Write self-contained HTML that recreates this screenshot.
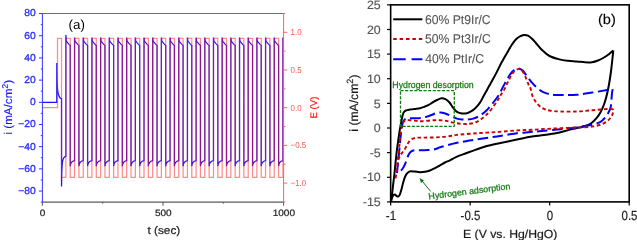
<!DOCTYPE html>
<html><head><meta charset="utf-8"><title>chart</title>
<style>
html,body{margin:0;padding:0;background:#fff;}
body{width:637px;height:240px;overflow:hidden;font-family:"Liberation Sans",sans-serif;}
svg{display:block;will-change:transform;}
</style></head><body>
<svg width="637" height="240" viewBox="0 0 637 240" text-rendering="geometricPrecision">
<rect width="637" height="240" fill="#fff"/>
<path d="M42.4,102.3 L56.8,102.3 L56.8,63 C56.9,89 57.3,97.5 61.54,98.8 L61.54,186.5 C61.74,160 62.54,156.8 65.88,156.3 L65.88,35 L66.38,41.3 C67.48,41.8 68.62,45 70.22,45.4 L70.22,166.2 C70.42,163 71.22,161.1 74.56,160.6 L74.56,37.6 L75.06,41.3 C76.16,41.8 77.31,45 78.91,45.4 L78.91,166.2 C79.11,163 79.91,161.1 83.25,160.6 L83.25,37.6 L83.75,41.3 C84.85,41.8 85.99,45 87.59,45.4 L87.59,166.2 C87.79,163 88.59,161.1 91.93,160.6 L91.93,37.6 L92.43,41.3 C93.53,41.8 94.67,45 96.27,45.4 L96.27,166.2 C96.47,163 97.27,161.1 100.61,160.6 L100.61,37.6 L101.11,41.3 C102.21,41.8 103.35,45 104.95,45.4 L104.95,166.2 C105.15,163 105.95,161.1 109.29,160.6 L109.29,37.6 L109.79,41.3 C110.89,41.8 112.03,45 113.63,45.4 L113.63,166.2 C113.83,163 114.63,161.1 117.97,160.6 L117.97,37.6 L118.47,41.3 C119.57,41.8 120.72,45 122.32,45.4 L122.32,166.2 C122.52,163 123.32,161.1 126.66,160.6 L126.66,37.6 L127.16,41.3 C128.26,41.8 129.4,45 131,45.4 L131,166.2 C131.2,163 132,161.1 135.34,160.6 L135.34,37.6 L135.84,41.3 C136.94,41.8 138.08,45 139.68,45.4 L139.68,166.2 C139.88,163 140.68,161.1 144.02,160.6 L144.02,37.6 L144.52,41.3 C145.62,41.8 146.76,45 148.36,45.4 L148.36,166.2 C148.56,163 149.36,161.1 152.7,160.6 L152.7,37.6 L153.2,41.3 C154.3,41.8 155.44,45 157.04,45.4 L157.04,166.2 C157.24,163 158.04,161.1 161.38,160.6 L161.38,37.6 L161.88,41.3 C162.98,41.8 164.13,45 165.73,45.4 L165.73,166.2 C165.93,163 166.73,161.1 170.07,160.6 L170.07,37.6 L170.57,41.3 C171.67,41.8 172.81,45 174.41,45.4 L174.41,166.2 C174.61,163 175.41,161.1 178.75,160.6 L178.75,37.6 L179.25,41.3 C180.35,41.8 181.49,45 183.09,45.4 L183.09,166.2 C183.29,163 184.09,161.1 187.43,160.6 L187.43,37.6 L187.93,41.3 C189.03,41.8 190.17,45 191.77,45.4 L191.77,166.2 C191.97,163 192.77,161.1 196.11,160.6 L196.11,37.6 L196.61,41.3 C197.71,41.8 198.85,45 200.45,45.4 L200.45,166.2 C200.65,163 201.45,161.1 204.79,160.6 L204.79,37.6 L205.29,41.3 C206.39,41.8 207.53,45 209.13,45.4 L209.13,166.2 C209.33,163 210.13,161.1 213.48,160.6 L213.48,37.6 L213.98,41.3 C215.08,41.8 216.22,45 217.82,45.4 L217.82,166.2 C218.02,163 218.82,161.1 222.16,160.6 L222.16,37.6 L222.66,41.3 C223.76,41.8 224.9,45 226.5,45.4 L226.5,166.2 C226.7,163 227.5,161.1 230.84,160.6 L230.84,37.6 L231.34,41.3 C232.44,41.8 233.58,45 235.18,45.4 L235.18,166.2 C235.38,163 236.18,161.1 239.52,160.6 L239.52,37.6 L240.02,41.3 C241.12,41.8 242.26,45 243.86,45.4 L243.86,166.2 C244.06,163 244.86,161.1 248.2,160.6 L248.2,37.6 L248.7,41.3 C249.8,41.8 250.95,45 252.55,45.4 L252.55,166.2 C252.75,163 253.55,161.1 256.89,160.6 L256.89,37.6 L257.39,41.3 C258.49,41.8 259.63,45 261.23,45.4 L261.23,166.2 C261.43,163 262.23,161.1 265.57,160.6 L265.57,37.6 L266.07,41.3 C267.17,41.8 268.31,45 269.91,45.4 L269.91,166.2 C270.11,163 270.91,161.1 274.25,160.6 L274.25,37.6 L274.75,41.3 C275.85,41.8 276.99,45 278.59,45.4 L278.59,166.2 C278.79,163 279.59,161.1 282.93,160.6 L282.93,37.6" fill="none" stroke="#1414ff" stroke-width="1.25" stroke-linejoin="miter"/>
<path d="M42.4,107.6 L57.5,107.6 L57.5,38.4 L61.54,38.4 L61.54,177.3 L65.88,177.3 L65.88,38.4 L70.22,38.4 L70.22,177.3 L74.56,177.3 L74.56,38.4 L78.91,38.4 L78.91,177.3 L83.25,177.3 L83.25,38.4 L87.59,38.4 L87.59,177.3 L91.93,177.3 L91.93,38.4 L96.27,38.4 L96.27,177.3 L100.61,177.3 L100.61,38.4 L104.95,38.4 L104.95,177.3 L109.29,177.3 L109.29,38.4 L113.63,38.4 L113.63,177.3 L117.97,177.3 L117.97,38.4 L122.32,38.4 L122.32,177.3 L126.66,177.3 L126.66,38.4 L131,38.4 L131,177.3 L135.34,177.3 L135.34,38.4 L139.68,38.4 L139.68,177.3 L144.02,177.3 L144.02,38.4 L148.36,38.4 L148.36,177.3 L152.7,177.3 L152.7,38.4 L157.04,38.4 L157.04,177.3 L161.38,177.3 L161.38,38.4 L165.73,38.4 L165.73,177.3 L170.07,177.3 L170.07,38.4 L174.41,38.4 L174.41,177.3 L178.75,177.3 L178.75,38.4 L183.09,38.4 L183.09,177.3 L187.43,177.3 L187.43,38.4 L191.77,38.4 L191.77,177.3 L196.11,177.3 L196.11,38.4 L200.45,38.4 L200.45,177.3 L204.79,177.3 L204.79,38.4 L209.13,38.4 L209.13,177.3 L213.48,177.3 L213.48,38.4 L217.82,38.4 L217.82,177.3 L222.16,177.3 L222.16,38.4 L226.5,38.4 L226.5,177.3 L230.84,177.3 L230.84,38.4 L235.18,38.4 L235.18,177.3 L239.52,177.3 L239.52,38.4 L243.86,38.4 L243.86,177.3 L248.2,177.3 L248.2,38.4 L252.55,38.4 L252.55,177.3 L256.89,177.3 L256.89,38.4 L261.23,38.4 L261.23,177.3 L265.57,177.3 L265.57,38.4 L269.91,38.4 L269.91,177.3 L274.25,177.3 L274.25,38.4 L278.59,38.4 L278.59,177.3 L282.93,177.3 L282.93,38.4 L283.6,38.4" fill="none" stroke="#ff1a1a" stroke-opacity="0.5" stroke-width="1.25" stroke-linejoin="miter"/>
<line x1="42.4" y1="13.5" x2="283.6" y2="13.5" stroke="#6e6e6e" stroke-width="1"/>
<line x1="42.4" y1="202.1" x2="283.6" y2="202.1" stroke="#5a5a5a" stroke-width="1.3"/>
<line x1="42.4" y1="202.1" x2="42.4" y2="205.8" stroke="#555" stroke-width="1"/>
<line x1="163" y1="202.1" x2="163" y2="205.8" stroke="#555" stroke-width="1"/>
<line x1="283.6" y1="202.1" x2="283.6" y2="205.8" stroke="#555" stroke-width="1"/>
<line x1="102.7" y1="202.1" x2="102.7" y2="203.7" stroke="#555" stroke-width="1"/>
<line x1="223.3" y1="202.1" x2="223.3" y2="203.7" stroke="#555" stroke-width="1"/>
<line x1="42.4" y1="13.5" x2="42.4" y2="202.1" stroke="#3434ff" stroke-width="1"/>
<line x1="38.9" y1="191.06" x2="42.4" y2="191.06" stroke="#3434ff" stroke-width="1"/>
<line x1="38.9" y1="168.87" x2="42.4" y2="168.87" stroke="#3434ff" stroke-width="1"/>
<line x1="38.9" y1="146.68" x2="42.4" y2="146.68" stroke="#3434ff" stroke-width="1"/>
<line x1="38.9" y1="124.49" x2="42.4" y2="124.49" stroke="#3434ff" stroke-width="1"/>
<line x1="38.9" y1="102.3" x2="42.4" y2="102.3" stroke="#3434ff" stroke-width="1"/>
<line x1="38.9" y1="80.11" x2="42.4" y2="80.11" stroke="#3434ff" stroke-width="1"/>
<line x1="38.9" y1="57.92" x2="42.4" y2="57.92" stroke="#3434ff" stroke-width="1"/>
<line x1="38.9" y1="35.73" x2="42.4" y2="35.73" stroke="#3434ff" stroke-width="1"/>
<line x1="38.9" y1="13.54" x2="42.4" y2="13.54" stroke="#3434ff" stroke-width="1"/>
<line x1="40.8" y1="202.15" x2="42.4" y2="202.15" stroke="#3434ff" stroke-width="1"/>
<line x1="40.8" y1="179.96" x2="42.4" y2="179.96" stroke="#3434ff" stroke-width="1"/>
<line x1="40.8" y1="157.77" x2="42.4" y2="157.77" stroke="#3434ff" stroke-width="1"/>
<line x1="40.8" y1="135.58" x2="42.4" y2="135.58" stroke="#3434ff" stroke-width="1"/>
<line x1="40.8" y1="113.39" x2="42.4" y2="113.39" stroke="#3434ff" stroke-width="1"/>
<line x1="40.8" y1="91.2" x2="42.4" y2="91.2" stroke="#3434ff" stroke-width="1"/>
<line x1="40.8" y1="69.02" x2="42.4" y2="69.02" stroke="#3434ff" stroke-width="1"/>
<line x1="40.8" y1="46.83" x2="42.4" y2="46.83" stroke="#3434ff" stroke-width="1"/>
<line x1="40.8" y1="24.64" x2="42.4" y2="24.64" stroke="#3434ff" stroke-width="1"/>
<line x1="283.6" y1="13.5" x2="283.6" y2="202.1" stroke="#ff6060" stroke-width="1"/>
<line x1="283.6" y1="32.3" x2="287.2" y2="32.3" stroke="#ff6060" stroke-width="1"/>
<line x1="283.6" y1="70" x2="287.2" y2="70" stroke="#ff6060" stroke-width="1"/>
<line x1="283.6" y1="107.7" x2="287.2" y2="107.7" stroke="#ff6060" stroke-width="1"/>
<line x1="283.6" y1="145.4" x2="287.2" y2="145.4" stroke="#ff6060" stroke-width="1"/>
<line x1="283.6" y1="183.1" x2="287.2" y2="183.1" stroke="#ff6060" stroke-width="1"/>
<line x1="283.6" y1="13.45" x2="285.4" y2="13.45" stroke="#ff6060" stroke-width="1"/>
<line x1="283.6" y1="51.15" x2="285.4" y2="51.15" stroke="#ff6060" stroke-width="1"/>
<line x1="283.6" y1="88.85" x2="285.4" y2="88.85" stroke="#ff6060" stroke-width="1"/>
<line x1="283.6" y1="126.55" x2="285.4" y2="126.55" stroke="#ff6060" stroke-width="1"/>
<line x1="283.6" y1="164.25" x2="285.4" y2="164.25" stroke="#ff6060" stroke-width="1"/>
<line x1="283.6" y1="201.95" x2="285.4" y2="201.95" stroke="#ff6060" stroke-width="1"/>
<g fill="none" stroke-linecap="butt" stroke-linejoin="round">
<path d="M391.3,200.8 C391.58,198.33 392.5,190.3 393,186 C393.5,181.7 393.87,179 394.3,175 C394.73,171 395.17,166.17 395.6,162 C396.03,157.83 396.45,153.67 396.9,150 C397.35,146.33 397.85,143.17 398.3,140 C398.75,136.83 399.2,133.5 399.6,131 C400,128.5 400.35,126.92 400.7,125 C401.05,123.08 401.37,121.17 401.7,119.5 C402.03,117.83 402.32,116.25 402.7,115 C403.08,113.75 403.45,112.75 404,112 C404.55,111.25 405,110.9 406,110.5 C407,110.1 408.58,109.87 410,109.6 C411.42,109.33 412.83,109.13 414.5,108.9 C416.17,108.67 418.33,108.55 420,108.2 C421.67,107.85 423.13,107.3 424.5,106.8 C425.87,106.3 426.95,105.87 428.2,105.2 C429.45,104.53 430.53,103.67 432,102.8 C433.47,101.93 435.42,100.77 437,100 C438.58,99.23 440.08,98.33 441.5,98.2 C442.92,98.07 444.17,98.48 445.5,99.2 C446.83,99.92 448.25,101.12 449.5,102.5 C450.75,103.88 451.75,105.95 453,107.5 C454.25,109.05 455.5,110.82 457,111.8 C458.5,112.78 460.33,113.17 462,113.4 C463.67,113.63 465.5,113.53 467,113.2 C468.5,112.87 469.67,112.2 471,111.4 C472.33,110.6 473.75,109.53 475,108.4 C476.25,107.27 477.5,105.83 478.5,104.6 C479.5,103.37 480.08,102.55 481,101 C481.92,99.45 483,97.15 484,95.3 C485,93.45 486,91.7 487,89.9 C488,88.1 489.04,86.22 490,84.5 C490.96,82.78 491.58,81.75 492.75,79.6 C493.92,77.45 495.62,74.28 497,71.6 C498.38,68.92 499.75,65.88 501,63.5 C502.25,61.12 503.28,59.43 504.5,57.3 C505.72,55.17 507.13,52.7 508.3,50.7 C509.47,48.7 510.42,46.98 511.5,45.3 C512.58,43.62 513.8,41.82 514.8,40.6 C515.8,39.38 516.55,38.73 517.5,38 C518.45,37.27 519.42,36.7 520.5,36.2 C521.58,35.7 522.75,35.08 524,35 C525.25,34.92 526.67,35.08 528,35.7 C529.33,36.32 530.75,37.57 532,38.7 C533.25,39.83 533.83,40.62 535.5,42.5 C537.17,44.38 539.67,47.75 542,50 C544.33,52.25 546.58,54.43 549.5,56 C552.42,57.57 556.42,58.6 559.5,59.4 C562.58,60.2 565.08,60.45 568,60.8 C570.92,61.15 574.17,61.25 577,61.5 C579.83,61.75 582.5,62.18 585,62.3 C587.5,62.42 589.83,62.5 592,62.2 C594.17,61.9 596,61.28 598,60.5 C600,59.72 602.08,58.63 604,57.5 C605.92,56.37 607.95,54.87 609.5,53.7 C611.05,52.53 612.67,51.03 613.3,50.5 M613.3,50.5 C613.13,52.08 612.7,56.42 612.3,60 C611.9,63.58 611.47,67.83 610.9,72 C610.33,76.17 609.67,80.83 608.9,85 C608.13,89.17 607.18,93.58 606.3,97 C605.42,100.42 604.58,102.92 603.6,105.5 C602.62,108.08 601.58,110.38 600.4,112.5 C599.22,114.62 598.03,116.42 596.5,118.2 C594.97,119.98 593.12,121.87 591.2,123.2 C589.28,124.53 587.37,125.4 585,126.2 C582.63,127 579.5,127.43 577,128 C574.5,128.57 573.75,128.7 570,129.6 C566.25,130.5 560.83,132.23 554.5,133.4 C548.17,134.57 538.25,135.57 532,136.6 C525.75,137.63 522.83,138.42 517,139.6 C511.17,140.78 502.17,142.58 497,143.7 C491.83,144.82 489.5,145.32 486,146.3 C482.5,147.28 479.33,148.43 476,149.6 C472.67,150.77 469.33,152.05 466,153.3 C462.67,154.55 458.67,155.93 456,157.1 C453.33,158.27 451.83,159.4 450,160.3 C448.17,161.2 446.67,161.67 445,162.5 C443.33,163.33 441.67,164.37 440,165.3 C438.33,166.23 436.67,167.23 435,168.1 C433.33,168.97 431.67,169.88 430,170.5 C428.33,171.12 426.67,171.52 425,171.8 C423.33,172.08 421.67,172.23 420,172.2 C418.33,172.17 416.58,171.77 415,171.6 C413.42,171.43 411.67,171.05 410.5,171.2 C409.33,171.35 408.7,171.97 408,172.5 C407.3,173.03 406.85,173.53 406.3,174.4 C405.75,175.27 405.25,176.22 404.7,177.7 C404.15,179.18 403.57,181.25 403,183.3 C402.43,185.35 401.83,188.12 401.3,190 C400.77,191.88 400.32,193.52 399.8,194.6 C399.28,195.68 398.73,196.27 398.2,196.5 C397.67,196.73 397.1,196.3 396.6,196 C396.1,195.7 395.67,194.88 395.2,194.7 C394.73,194.52 394.27,194.55 393.8,194.9 C393.33,195.25 392.82,195.82 392.4,196.8 C391.98,197.78 391.48,200.13 391.3,200.8" stroke="#000" stroke-width="2.0"/>
<path d="M397,173 C397.12,171.83 397.43,168.5 397.7,166 C397.97,163.5 398.3,161 398.6,158 C398.9,155 399.18,151.33 399.5,148 C399.82,144.67 400.17,141.08 400.5,138 C400.83,134.92 401.15,131.92 401.5,129.5 C401.85,127.08 402.15,125.08 402.6,123.5 C403.05,121.92 403.55,120.82 404.2,120 C404.85,119.18 405.37,118.88 406.5,118.6 C407.63,118.32 409.25,118.37 411,118.3 C412.75,118.23 415,118.32 417,118.2 C419,118.08 421.33,117.87 423,117.6 C424.67,117.33 425.58,117.03 427,116.6 C428.42,116.17 429.92,115.6 431.5,115 C433.08,114.4 434.96,113.42 436.5,113 C438.04,112.58 439.42,112.47 440.75,112.5 C442.08,112.53 443.29,112.85 444.5,113.2 C445.71,113.55 446.67,114 448,114.6 C449.33,115.2 451,116.13 452.5,116.8 C454,117.47 455.42,118.17 457,118.6 C458.58,119.03 460.38,119.23 462,119.4 C463.62,119.57 464.82,119.73 466.7,119.6 C468.58,119.47 471.08,119.27 473.3,118.6 C475.52,117.93 477.77,117 480,115.6 C482.23,114.2 484.48,112.38 486.7,110.2 C488.92,108.02 491.28,105.03 493.3,102.5 C495.32,99.97 497.18,97.6 498.8,95 C500.42,92.4 501.47,89.77 503,86.9 C504.53,84.03 506.47,80.32 508,77.8 C509.53,75.28 510.82,73.28 512.2,71.8 C513.58,70.32 515.05,69.42 516.3,68.9 C517.55,68.38 518.58,68.38 519.7,68.7 C520.82,69.02 521.75,69.5 523,70.8 C524.25,72.1 525.67,74.48 527.2,76.5 C528.73,78.52 530.57,81.02 532.2,82.9 C533.83,84.78 535.53,86.48 537,87.8 C538.47,89.12 539.75,90 541,90.8 C542.25,91.6 543.08,92.03 544.5,92.6 C545.92,93.17 547.83,93.82 549.5,94.2 C551.17,94.58 551.92,94.75 554.5,94.9 C557.08,95.05 561.25,95.12 565,95.1 C568.75,95.08 572.5,95.22 577,94.8 C581.5,94.38 587,93.4 592,92.6 C597,91.8 603.63,90.63 607,90 C610.37,89.37 611.37,88.3 612.2,88.8 C613.03,89.3 612.13,91.13 612,93 C611.87,94.87 611.63,97.58 611.4,100 C611.17,102.42 611.08,105.42 610.6,107.5 C610.12,109.58 609.18,111.08 608.5,112.5 C607.82,113.92 607.42,114.78 606.5,116 C605.58,117.22 604.17,118.73 603,119.8 C601.83,120.87 601,121.65 599.5,122.4 C598,123.15 595.67,123.82 594,124.3 C592.33,124.78 591.33,124.97 589.5,125.3 C587.67,125.63 585.08,125.95 583,126.3 C580.92,126.65 580.83,126.9 577,127.4 C573.17,127.9 565.83,128.7 560,129.3 C554.17,129.9 547,130.53 542,131 C537,131.47 534.17,131.73 530,132.1 C525.83,132.47 522.5,132.48 517,133.2 C511.5,133.92 503.67,135.38 497,136.4 C490.33,137.42 482,138.53 477,139.3 C472,140.07 470.33,140.42 467,141 C463.67,141.58 460.33,142.08 457,142.8 C453.67,143.52 449.83,144.55 447,145.3 C444.17,146.05 442.08,146.63 440,147.3 C437.92,147.97 436.5,148.83 434.5,149.3 C432.5,149.77 430.08,149.95 428,150.1 C425.92,150.25 423.83,150.18 422,150.2 C420.17,150.22 418.43,150.15 417,150.2 C415.57,150.25 414.33,150.3 413.4,150.5 C412.47,150.7 412,151.02 411.4,151.4 C410.8,151.78 410.28,152.2 409.8,152.8 C409.32,153.4 408.92,154.13 408.5,155 C408.08,155.87 407.73,156.83 407.3,158 C406.87,159.17 406.38,160.75 405.9,162 C405.42,163.25 404.93,164.42 404.4,165.5 C403.87,166.58 403.38,167.55 402.7,168.5 C402.02,169.45 401.25,170.45 400.3,171.2 C399.35,171.95 397.55,172.7 397,173" stroke="#0000ff" stroke-width="2.0" stroke-dasharray="10.5 4.5"/>
<path d="M395.6,178.3 C395.73,177.25 396.13,174.22 396.4,172 C396.67,169.78 396.92,167.5 397.2,165 C397.48,162.5 397.78,159.83 398.1,157 C398.42,154.17 398.78,151 399.1,148 C399.42,145 399.68,141.83 400,139 C400.32,136.17 400.63,133.37 401,131 C401.37,128.63 401.7,126.42 402.2,124.8 C402.7,123.18 403.28,122.1 404,121.3 C404.72,120.5 405.5,120.18 406.5,120 C407.5,119.82 408.67,120.1 410,120.2 C411.33,120.3 413.08,120.45 414.5,120.6 C415.92,120.75 417.25,121 418.5,121.1 C419.75,121.2 420.42,121.27 422,121.2 C423.58,121.13 425.92,120.87 428,120.7 C430.08,120.53 432.58,120.28 434.5,120.2 C436.42,120.12 437.83,120.13 439.5,120.2 C441.17,120.27 443,120.4 444.5,120.6 C446,120.8 447.25,121.1 448.5,121.4 C449.75,121.7 450.58,122.08 452,122.4 C453.42,122.72 455.33,123.07 457,123.3 C458.67,123.53 460.38,123.68 462,123.8 C463.62,123.92 464.53,124.2 466.7,124 C468.87,123.8 472.23,123.67 475,122.6 C477.77,121.53 480.8,119.55 483.3,117.6 C485.8,115.65 487.77,113.53 490,110.9 C492.23,108.27 494.95,104.37 496.7,101.8 C498.45,99.23 499.17,97.7 500.5,95.5 C501.83,93.3 503.32,91.15 504.7,88.6 C506.08,86.05 507.42,82.83 508.8,80.2 C510.18,77.57 511.6,74.6 513,72.8 C514.4,71 515.95,70 517.2,69.4 C518.45,68.8 519.53,68.77 520.5,69.2 C521.47,69.63 522.03,70.4 523,72 C523.97,73.6 525.38,76.72 526.3,78.8 C527.22,80.88 527.8,82.93 528.5,84.5 C529.2,86.07 529.83,86.28 530.5,88.2 C531.17,90.12 531.67,93.78 532.5,96 C533.33,98.22 534.33,99.83 535.5,101.5 C536.67,103.17 538.08,104.78 539.5,106 C540.92,107.22 542.33,108.05 544,108.8 C545.67,109.55 546.83,110.05 549.5,110.5 C552.17,110.95 555.42,111.33 560,111.5 C564.58,111.67 571.67,111.7 577,111.5 C582.33,111.3 587.67,110.67 592,110.3 C596.33,109.93 600.08,109.53 603,109.3 C605.92,109.07 607.78,108.85 609.5,108.9 C611.22,108.95 612.72,109 613.3,109.6 C613.88,110.2 613.22,111.52 613,112.5 C612.78,113.48 612.5,114.5 612,115.5 C611.5,116.5 610.83,117.53 610,118.5 C609.17,119.47 608.08,120.48 607,121.3 C605.92,122.12 604.75,122.78 603.5,123.4 C602.25,124.02 601.08,124.52 599.5,125 C597.92,125.48 595.67,125.97 594,126.3 C592.33,126.63 591.5,126.82 589.5,127 C587.5,127.18 584.08,127.33 582,127.4 C579.92,127.47 580.33,127.28 577,127.4 C573.67,127.52 567,127.85 562,128.1 C557,128.35 552,128.62 547,128.9 C542,129.18 537,129.55 532,129.8 C527,130.05 522.83,130.03 517,130.4 C511.17,130.77 503.67,131.53 497,132 C490.33,132.47 483.67,132.72 477,133.2 C470.33,133.68 461.17,134.47 457,134.9 C452.83,135.33 454.33,135.47 452,135.8 C449.67,136.13 445.92,136.63 443,136.9 C440.08,137.17 437.5,137.28 434.5,137.4 C431.5,137.52 427.92,137.55 425,137.6 C422.08,137.65 419,137.53 417,137.7 C415,137.87 414.18,138.12 413,138.6 C411.82,139.08 410.83,139.65 409.9,140.6 C408.97,141.55 408.33,142.73 407.4,144.3 C406.47,145.87 405.45,148.22 404.3,150 C403.15,151.78 401.52,153.25 400.5,155 C399.48,156.75 398.73,158.67 398.2,160.5 C397.67,162.33 397.58,164.08 397.3,166 C397.02,167.92 396.78,169.95 396.5,172 C396.22,174.05 395.75,177.25 395.6,178.3" stroke="#cc0000" stroke-width="1.9" stroke-dasharray="3.6 2.6"/>
</g>
<rect x="400.5" y="90.7" width="53.8" height="35.6" fill="none" stroke="#0b7b0b" stroke-width="1.3" stroke-dasharray="3.1 1.5" stroke-linejoin="round"/>
<line x1="430.6" y1="191.4" x2="421.2" y2="179.9" stroke="#0f720f" stroke-width="1.0"/>
<path d="M419.6,177.9 L424.0,180.6 L421.0,182.9 Z" fill="#0f720f"/>
<rect x="390.65" y="4.85" width="238.55" height="197.05" fill="none" stroke="#000" stroke-width="1.6"/>
<line x1="387.05" y1="201.9" x2="390.65" y2="201.9" stroke="#000" stroke-width="1.2"/>
<line x1="387.05" y1="177.27" x2="390.65" y2="177.27" stroke="#000" stroke-width="1.2"/>
<line x1="387.05" y1="152.64" x2="390.65" y2="152.64" stroke="#000" stroke-width="1.2"/>
<line x1="387.05" y1="128.01" x2="390.65" y2="128.01" stroke="#000" stroke-width="1.2"/>
<line x1="387.05" y1="103.38" x2="390.65" y2="103.38" stroke="#000" stroke-width="1.2"/>
<line x1="387.05" y1="78.74" x2="390.65" y2="78.74" stroke="#000" stroke-width="1.2"/>
<line x1="387.05" y1="54.11" x2="390.65" y2="54.11" stroke="#000" stroke-width="1.2"/>
<line x1="387.05" y1="29.48" x2="390.65" y2="29.48" stroke="#000" stroke-width="1.2"/>
<line x1="387.05" y1="4.85" x2="390.65" y2="4.85" stroke="#000" stroke-width="1.2"/>
<line x1="390.65" y1="201.9" x2="390.65" y2="205.6" stroke="#000" stroke-width="1.2"/>
<line x1="470.17" y1="201.9" x2="470.17" y2="205.6" stroke="#000" stroke-width="1.2"/>
<line x1="549.68" y1="201.9" x2="549.68" y2="205.6" stroke="#000" stroke-width="1.2"/>
<line x1="629.2" y1="201.9" x2="629.2" y2="205.6" stroke="#000" stroke-width="1.2"/>
<line x1="393.2" y1="19.3" x2="422.4" y2="19.3" stroke="#000" stroke-width="2"/>
<line x1="393.2" y1="39.0" x2="422.4" y2="39.0" stroke="#cc0000" stroke-width="1.8" stroke-dasharray="3.5 2.9"/>
<line x1="393.2" y1="59.2" x2="422.4" y2="59.2" stroke="#0000ff" stroke-width="2" stroke-dasharray="12.5 5.9"/>
<text transform="translate(35.74,193.91) scale(1.0300,1)" font-family="Liberation Sans, sans-serif" font-size="10" fill="#2a2aff" text-anchor="end" stroke="#2a2aff" stroke-width="0.3">−80</text>
<text transform="translate(35.74,171.72) scale(1.0300,1)" font-family="Liberation Sans, sans-serif" font-size="10" fill="#2a2aff" text-anchor="end" stroke="#2a2aff" stroke-width="0.3">−60</text>
<text transform="translate(35.74,149.53) scale(1.0300,1)" font-family="Liberation Sans, sans-serif" font-size="10" fill="#2a2aff" text-anchor="end" stroke="#2a2aff" stroke-width="0.3">−40</text>
<text transform="translate(35.74,127.34) scale(1.0300,1)" font-family="Liberation Sans, sans-serif" font-size="10" fill="#2a2aff" text-anchor="end" stroke="#2a2aff" stroke-width="0.3">−20</text>
<text transform="translate(35.74,105.15) scale(1.0300,1)" font-family="Liberation Sans, sans-serif" font-size="10" fill="#2a2aff" text-anchor="end" stroke="#2a2aff" stroke-width="0.3">0</text>
<text transform="translate(35.74,82.96) scale(1.0300,1)" font-family="Liberation Sans, sans-serif" font-size="10" fill="#2a2aff" text-anchor="end" stroke="#2a2aff" stroke-width="0.3">20</text>
<text transform="translate(35.74,60.77) scale(1.0300,1)" font-family="Liberation Sans, sans-serif" font-size="10" fill="#2a2aff" text-anchor="end" stroke="#2a2aff" stroke-width="0.3">40</text>
<text transform="translate(35.74,38.58) scale(1.0300,1)" font-family="Liberation Sans, sans-serif" font-size="10" fill="#2a2aff" text-anchor="end" stroke="#2a2aff" stroke-width="0.3">60</text>
<text transform="translate(35.74,16.39) scale(1.0300,1)" font-family="Liberation Sans, sans-serif" font-size="10" fill="#2a2aff" text-anchor="end" stroke="#2a2aff" stroke-width="0.3">80</text>
<text transform="translate(290.58,35.29) scale(0.9055,1)" font-family="Liberation Sans, sans-serif" font-size="8.71" fill="#ff5050" text-anchor="start">1.0</text>
<text transform="translate(290.58,72.99) scale(0.9055,1)" font-family="Liberation Sans, sans-serif" font-size="8.71" fill="#ff5050" text-anchor="start">0.5</text>
<text transform="translate(290.58,110.69) scale(0.9055,1)" font-family="Liberation Sans, sans-serif" font-size="8.71" fill="#ff5050" text-anchor="start">0.0</text>
<text transform="translate(290.58,148.39) scale(0.9055,1)" font-family="Liberation Sans, sans-serif" font-size="8.71" fill="#ff5050" text-anchor="start">−0.5</text>
<text transform="translate(290.58,186.09) scale(0.9055,1)" font-family="Liberation Sans, sans-serif" font-size="8.71" fill="#ff5050" text-anchor="start">−1.0</text>
<text transform="translate(42.66,215.92) scale(1.0938,1)" font-family="Liberation Sans, sans-serif" font-size="9.18" fill="#222222" text-anchor="middle" stroke="#222222" stroke-width="0.2">0</text>
<text transform="translate(163.26,215.92) scale(1.0938,1)" font-family="Liberation Sans, sans-serif" font-size="9.18" fill="#222222" text-anchor="middle" stroke="#222222" stroke-width="0.2">500</text>
<text transform="translate(283.86,215.92) scale(1.0938,1)" font-family="Liberation Sans, sans-serif" font-size="9.18" fill="#222222" text-anchor="middle" stroke="#222222" stroke-width="0.2">1000</text>
<text transform="translate(163.83,233.98) scale(1.0817,1)" font-family="Liberation Sans, sans-serif" font-size="10.95" fill="#222222" text-anchor="middle" stroke="#222222" stroke-width="0.2">t (sec)</text>
<text transform="translate(76.73,29.02) scale(1.0129,1)" font-family="Liberation Sans, sans-serif" font-size="13.25" fill="#000000" text-anchor="middle">(a)</text>
<text transform="translate(316.94,107.55) rotate(-90) scale(1.0066,1)" font-family="Liberation Sans, sans-serif" font-size="9.55" fill="#ff1a1a" text-anchor="middle" stroke="#ff1a1a" stroke-width="0.2">E (V)</text>
<text transform="translate(380.72,206.11) scale(1.0246,1)" font-family="Liberation Sans, sans-serif" font-size="12.12" fill="#555555" text-anchor="end" stroke="#555555" stroke-width="0.15">-15</text>
<text transform="translate(380.72,181.48) scale(1.0246,1)" font-family="Liberation Sans, sans-serif" font-size="12.12" fill="#555555" text-anchor="end" stroke="#555555" stroke-width="0.15">-10</text>
<text transform="translate(380.72,156.85) scale(1.0246,1)" font-family="Liberation Sans, sans-serif" font-size="12.12" fill="#555555" text-anchor="end" stroke="#555555" stroke-width="0.15">-5</text>
<text transform="translate(380.72,132.22) scale(1.0246,1)" font-family="Liberation Sans, sans-serif" font-size="12.12" fill="#555555" text-anchor="end" stroke="#555555" stroke-width="0.15">0</text>
<text transform="translate(380.72,107.58) scale(1.0246,1)" font-family="Liberation Sans, sans-serif" font-size="12.12" fill="#555555" text-anchor="end" stroke="#555555" stroke-width="0.15">5</text>
<text transform="translate(380.72,82.95) scale(1.0246,1)" font-family="Liberation Sans, sans-serif" font-size="12.12" fill="#555555" text-anchor="end" stroke="#555555" stroke-width="0.15">10</text>
<text transform="translate(380.72,58.32) scale(1.0246,1)" font-family="Liberation Sans, sans-serif" font-size="12.12" fill="#555555" text-anchor="end" stroke="#555555" stroke-width="0.15">15</text>
<text transform="translate(380.72,33.69) scale(1.0246,1)" font-family="Liberation Sans, sans-serif" font-size="12.12" fill="#555555" text-anchor="end" stroke="#555555" stroke-width="0.15">20</text>
<text transform="translate(380.72,9.06) scale(1.0246,1)" font-family="Liberation Sans, sans-serif" font-size="12.12" fill="#555555" text-anchor="end" stroke="#555555" stroke-width="0.15">25</text>
<text transform="translate(390.94,220.2) scale(0.8749,1)" font-family="Liberation Sans, sans-serif" font-size="13.13" fill="#222222" text-anchor="middle" stroke="#222222" stroke-width="0.2">-1</text>
<text transform="translate(470.46,220.2) scale(0.8749,1)" font-family="Liberation Sans, sans-serif" font-size="13.13" fill="#222222" text-anchor="middle" stroke="#222222" stroke-width="0.2">-0.5</text>
<text transform="translate(549.97,220.2) scale(0.8749,1)" font-family="Liberation Sans, sans-serif" font-size="13.13" fill="#222222" text-anchor="middle" stroke="#222222" stroke-width="0.2">0</text>
<text transform="translate(629.49,220.2) scale(0.8749,1)" font-family="Liberation Sans, sans-serif" font-size="13.13" fill="#222222" text-anchor="middle" stroke="#222222" stroke-width="0.2">0.5</text>
<text transform="translate(510.2,237.9) scale(1.0450,1)" font-family="Liberation Sans, sans-serif" font-size="11.7" fill="#1a1a1a" text-anchor="middle" stroke="#1a1a1a" stroke-width="0.2">E (V vs. Hg/HgO)</text>
<text transform="translate(606.93,23.62) scale(1.0471,1)" font-family="Liberation Sans, sans-serif" font-size="13.95" fill="#000000" text-anchor="middle" stroke="#000000" stroke-width="0.1">(b)</text>
<text transform="translate(424.9,23.65) scale(0.9530,1)" font-family="Liberation Sans, sans-serif" font-size="12.8" fill="#555555" text-anchor="start" stroke="#555555" stroke-width="0.1">60% Pt9Ir/C</text>
<text transform="translate(424.95,43.3) scale(0.9530,1)" font-family="Liberation Sans, sans-serif" font-size="12.8" fill="#555555" text-anchor="start" stroke="#555555" stroke-width="0.1">50% Pt3Ir/C</text>
<text transform="translate(425.19,63.35) scale(0.9530,1)" font-family="Liberation Sans, sans-serif" font-size="12.8" fill="#555555" text-anchor="start" stroke="#555555" stroke-width="0.1">40% PtIr/C</text>
<text transform="translate(392.3,87.8) scale(0.9350,1)" font-family="Liberation Sans, sans-serif" font-size="9.4" fill="#117a11" text-anchor="start" stroke="#117a11" stroke-width="0.25">Hydrogen desorption</text>
<text transform="translate(12,107.2) rotate(-90) scale(1.0300,1)" font-family="Liberation Sans, sans-serif" font-size="11.3" fill="#1414ff" text-anchor="middle" stroke="#1414ff" stroke-width="0.1">i (mA/cm<tspan dy="-4.5" font-size="8.5">2</tspan><tspan dy="4.5">)</tspan></text>
<text transform="translate(357.8,103.1) rotate(-90) scale(1.0150,1)" font-family="Liberation Sans, sans-serif" font-size="12" fill="#1a1a1a" text-anchor="middle" stroke="#1a1a1a" stroke-width="0.2">i (mA/cm<tspan dy="-4.8" font-size="9">2</tspan><tspan dy="4.8">)</tspan></text>
<text transform="translate(428.8,199.4) rotate(-7.2) scale(1.0000,1)" font-family="Liberation Sans, sans-serif" font-size="8.9" fill="#117a11" stroke="#117a11" stroke-width="0.25">Hydrogen adsorption</text>
</svg>
</body></html>
